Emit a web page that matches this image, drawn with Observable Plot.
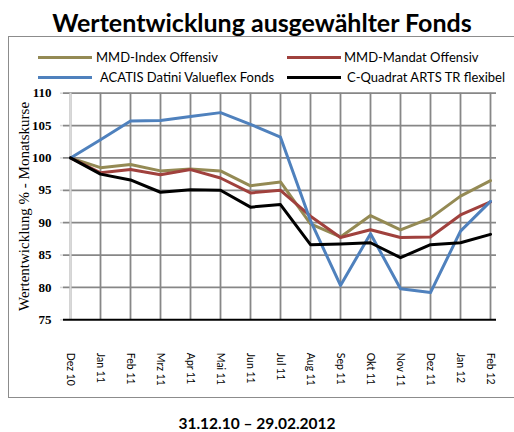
<!DOCTYPE html>
<html><head><meta charset="utf-8">
<script src="https://cdn.jsdelivr.net/npm/d3@7"></script>
<script src="https://cdn.jsdelivr.net/npm/@observablehq/plot@0.6"></script>
<style>
body{margin:0;background:#fff;width:514px;height:432px;overflow:hidden;position:relative;font-family:Lato,"Open Sans",sans-serif;}
#title{position:absolute;left:0;top:7px;width:524px;text-align:center;font-weight:bold;font-size:25px;line-height:30px;color:#000;}
#box{position:absolute;left:8px;top:36px;width:520px;height:362px;border:1.5px solid #8c8c8c;box-sizing:border-box;}
#chart{position:absolute;left:0;top:36px;}
.leg{position:absolute;font-size:13px;line-height:16px;color:#000;white-space:nowrap;}
.sw{position:absolute;height:3px;}
#cap{position:absolute;left:0;top:414px;width:514px;text-align:center;font-weight:bold;font-size:15.5px;line-height:18px;}
</style></head>
<body>
<div id="title">Wertentwicklung ausgewählter Fonds</div>
<div id="box"></div>
<div id="chart"></div>
<div id="legend"></div>
<div id="cap">31.12.10 – 29.02.2012</div>
<script>
const months = ["Dez 10","Jan 11","Feb 11","Mrz 11","Apr 11","Mai 11","Jun 11","Jul 11","Aug 11","Sep 11","Okt 11","Nov 11","Dez 11","Jan 12","Feb 12"];
const seriesNames = ["MMD-Index Offensiv","MMD-Mandat Offensiv","ACATIS Datini Valueflex Fonds","C-Quadrat ARTS TR flexibel"];
const seriesColors = ["#948a54","#a0413d","#4f81bd","#000000"];
const mmdIndex = [100,98.5,99.0,98.0,98.3,98.0,95.7,96.3,89.8,87.8,91.1,88.9,90.7,94.1,96.5];
const mmdMandat = [100,97.7,98.2,97.4,98.2,96.9,94.6,95.0,91.0,87.7,88.9,87.7,87.8,91.2,93.2];
const acatis = [100,102.8,105.7,105.8,106.4,107.0,105.2,103.2,90.3,80.3,88.3,79.8,79.2,88.7,93.3];
const cquadrat = [100,97.5,96.6,94.7,95.1,95.0,92.4,92.8,86.6,86.7,86.9,84.6,86.6,86.9,88.2];
const yTicks = [75,80,85,90,95,100,105,110];

const allSeries = [mmdIndex, mmdMandat, acatis, cquadrat];
const rows = [];
allSeries.forEach((vals, s) => vals.forEach((v, i) => rows.push({month: months[i], value: v, series: seriesNames[s]})));

const plot = Plot.plot({
  width: 514, height: 364,
  marginLeft: 63, marginRight: 18, marginTop: 56.7, marginBottom: 80.7,
  x: {type: "point", domain: months, padding: 0, label: null},
  y: {domain: [75, 110], ticks: yTicks, label: null},
  color: {domain: seriesNames, range: seriesColors},
  marks: [
    Plot.ruleX(months, {x: d => d, stroke: "#878787", strokeWidth: 1.8}),
    Plot.ruleY(yTicks.filter(t => t > 75), {y: d => d, stroke: "#878787", strokeWidth: 1.8}),
    Plot.ruleX([months[0]], {x: d => d, stroke: "#d9d9d9", strokeWidth: 2}),
    Plot.axisY({ticks: yTicks, tickSize: 3, stroke: "#d9d9d9", strokeWidth: 1.5, tickPadding: 9, fontFamily: "Liberation Serif", fontWeight: "bold", fontSize: 13, fill: "#000", label: null}),
    Plot.axisX({tickSize: 0, tickPadding: 33, tickRotate: 90, fontSize: 10.5, fontFamily: "Lato", fill: "#000", label: null}),
    Plot.line(rows, {x: "month", y: "value", z: "series", stroke: "series", strokeWidth: 3, strokeLinejoin: "round"}),
    Plot.ruleY([75], {y: d => d, stroke: "#000", strokeWidth: 2}),
    Plot.text(["Wertentwicklung % - Monatskurse"], {frameAnchor: "left", dx: -39, rotate: -90, textAnchor: "middle", fontFamily: "Liberation Serif", fontSize: 15, fill: "#000", text: d => d})
  ]
});
document.getElementById("chart").appendChild(plot);

const legPos = [[38,57,96],[287,57,344],[38,77,100],[287,77,347]];
const leg = document.getElementById("legend");
seriesNames.forEach((n, i) => {
  const [x, y, tx] = legPos[i];
  const sw = document.createElement("div");
  sw.className = "sw"; sw.style.left = x + "px"; sw.style.top = (y - 1.5) + "px"; sw.style.width = "54px"; sw.style.background = seriesColors[i];
  leg.appendChild(sw);
  const t = document.createElement("div");
  t.className = "leg"; t.style.left = tx + "px"; t.style.top = (y - 8.5) + "px"; t.textContent = n;
  leg.appendChild(t);
});
</script>
</body></html>
